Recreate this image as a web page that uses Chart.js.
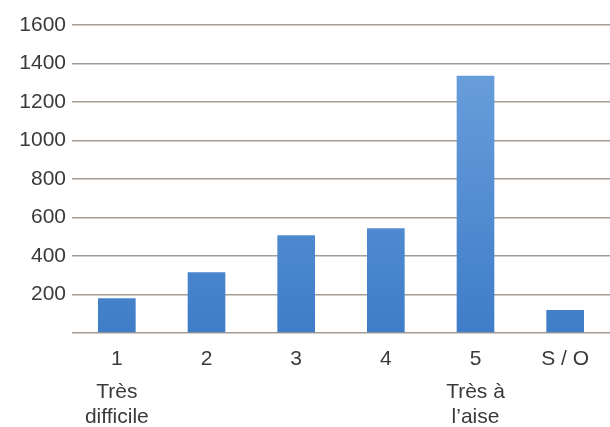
<!DOCTYPE html>
<html>
<head>
<meta charset="utf-8">
<script src="https://cdn.jsdelivr.net/npm/chart.js@4"></script>
<style>
  html, body { margin: 0; padding: 0; background: #fff; }
  #wrap { width: 610px; height: 427px; }
</style>
</head>
<body>
<div id="wrap"><canvas id="barChart" width="610" height="427"></canvas></div>
<script>
// data
var categories = ["1", "2", "3", "4", "5", "S / O"];
var subLabels = [["Très", "difficile"], [], [], [], ["Très à", "l’aise"], []];
var counts = [181, 316, 508, 544, 1337, 119];
var yTicks = [200, 400, 600, 800, 1000, 1200, 1400, 1600];

var textColor = '#3a3a3a';
var fontFamily = '"Liberation Sans", Arial, sans-serif';

// second and third lines under the category labels
var subLabelPlugin = {
    id: 'subLabels',
    afterDraw: function (chart) {
        var ctx = chart.ctx;
        var xs = chart.scales.x;
        ctx.save();
        ctx.fillStyle = textColor;
        ctx.font = '21px ' + fontFamily;
        ctx.textAlign = 'center';
        ctx.textBaseline = 'middle';
        subLabels.forEach(function (lines, i) {
            var x = xs.getPixelForValue(i);
            lines.forEach(function (t, j) {
                ctx.fillText(t, x, 392 + j * 25);
            });
        });
        ctx.restore();
    }
};

var ctx = document.getElementById('barChart').getContext('2d');
var chart = new Chart(ctx, {
    type: 'bar',
    data: {
        labels: categories,
        datasets: [{
            data: counts,
            backgroundColor: function (c) {
                var area = c.chart.chartArea;
                if (!area) return '#4a86cc';
                var g = c.chart.ctx.createLinearGradient(0, area.top, 0, area.bottom);
                g.addColorStop(0, '#6fa3de');
                g.addColorStop(1, '#3f7dc8');
                return g;
            },
            borderWidth: 0,
            barPercentage: 0.42,
            categoryPercentage: 1
        }]
    },
    options: {
        responsive: false,
        animation: false,
        layout: { padding: { top: 25, right: 0, left: 0, bottom: 0 } },
        plugins: { legend: { display: false }, tooltip: { enabled: false } },
        scales: {
            x: {
                grid: { display: false },
                border: { display: false },
                ticks: {
                    color: textColor,
                    font: { size: 21, family: fontFamily },
                    padding: 6,
                    maxRotation: 0
                },
                afterFit: function (s) { s.height = 94; }
            },
            y: {
                min: 0,
                max: 1600,
                border: { display: false },
                grid: { color: '#a39b94', lineWidth: 1.5, drawTicks: false },
                afterBuildTicks: function (s) {
                    s.ticks = [{ value: 0 }].concat(yTicks.map(function (v) { return { value: v }; }));
                },
                ticks: {
                    color: textColor,
                    font: { size: 21, family: fontFamily },
                    padding: 6,
                    callback: function (v) { return v === 0 ? '' : v; }
                },
                afterFit: function (s) { s.width = 72; }
            }
        }
    },
    plugins: [subLabelPlugin]
});
</script>
</body>
</html>
